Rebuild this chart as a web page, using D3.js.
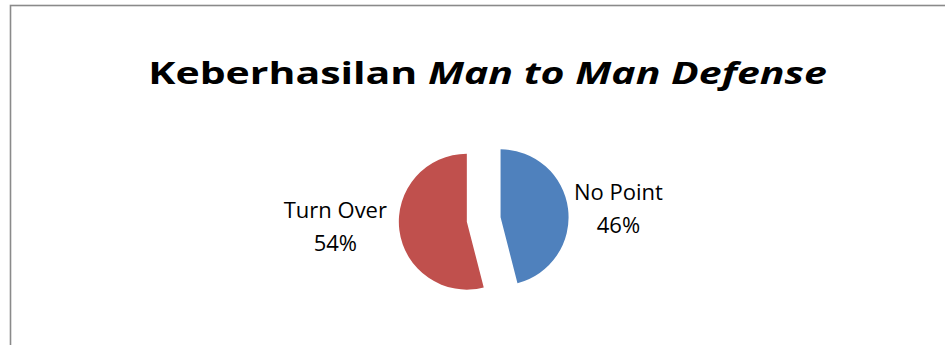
<!DOCTYPE html>
<html><head><meta charset="utf-8">
<script src="https://cdn.jsdelivr.net/npm/d3@7"></script>
<style>html,body{margin:0;padding:0;background:#fff;overflow:hidden}</style>
</head><body>
<svg id="c" width="945" height="345"></svg>
<script>
const categories = ["No Point", "Turn Over"];
const values = [46, 54];
const colors = ["#4F81BD", "#C0504D"];
const titlePlain = "Keberhasilan ";
const titleItalic = "Man to Man Defense";

const W = 945, H = 345;
const svg = d3.select("#c");
svg.append("rect").attr("width", W).attr("height", H).attr("fill", "#fff");
svg.append("rect").attr("x", 10.5).attr("y", 5.5).attr("width", 960).attr("height", 420)
  .attr("fill", "#fff").attr("stroke", "#8a8a8a").attr("stroke-width", 1.6);

const font = "'Open Sans', Lato, sans-serif";
const title = svg.append("text").attr("x", 0).attr("y", 0)
  .attr("text-anchor", "middle").attr("font-family", font)
  .attr("font-size", 30.5).attr("font-weight", "bold").attr("fill", "#000");
title.append("tspan").text(titlePlain);
title.append("tspan").attr("font-style", "italic").text(titleItalic);
const tw = title.node().getComputedTextLength();
title.attr("transform", `translate(487.5,84) scale(${679 / tw},1)`);

const cx = 483.7, cy = 219.5, r = 68, explode = 17;
const total = d3.sum(values);
const pie = d3.pie().sort(null).value(d => d)(values);
const arc = d3.arc().innerRadius(0).outerRadius(r);
const g = svg.append("g").attr("transform", `translate(${cx},${cy})`);

pie.forEach((d, i) => {
  const mid = (d.startAngle + d.endAngle) / 2;
  const dx = Math.sin(mid) * explode, dy = -Math.cos(mid) * explode;
  g.append("path").attr("d", arc(d)).attr("fill", colors[i])
    .attr("transform", `translate(${dx},${dy})`);
  const right = Math.sin(mid) > 0;
  const ld = right ? 91 : 97.5;
  const lx = Math.sin(mid) * ld, ly = -Math.cos(mid) * ld;
  const t = g.append("text").attr("font-family", font).attr("font-size", 22)
    .attr("fill", "#000").attr("text-anchor", "middle");
  const l1 = t.append("tspan").attr("x", 0).attr("y", 0).text(categories[i]);
  const l2 = t.append("tspan").attr("x", 0).attr("y", 33).text(Math.round(values[i] / total * 100) + "%");
  const w = Math.max(l1.node().getComputedTextLength(), l2.node().getComputedTextLength());
  const x = right ? lx + w / 2 : lx - w / 2;
  const y0 = ly + (right ? -8 : -13.7);
  l1.attr("x", x).attr("y", y0);
  l2.attr("x", x).attr("y", y0 + 33);
});
</script>
</body></html>
